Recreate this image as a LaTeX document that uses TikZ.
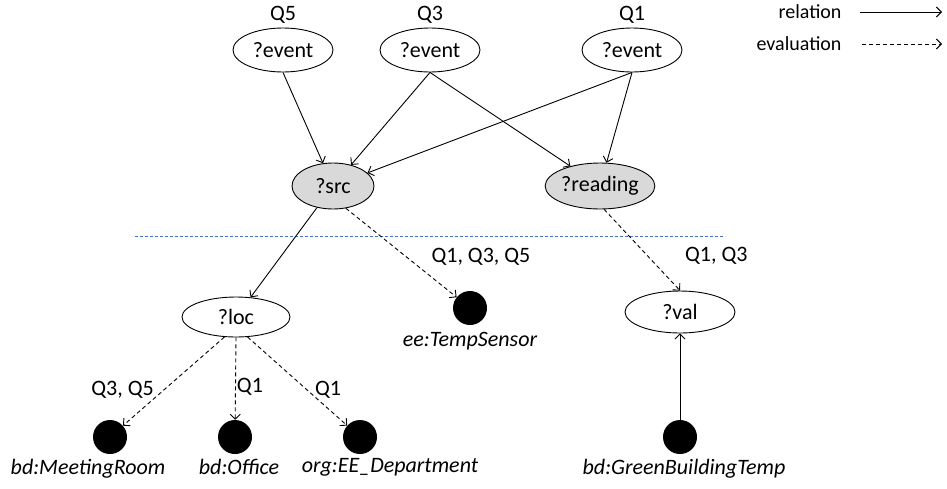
\documentclass[tikz,border=0pt]{standalone}
\usepackage{fontspec}
\setmainfont{Carlito}
\usetikzlibrary{shapes,arrows.meta}
\usetikzlibrary{shapes.geometric,positioning}
\definecolor{sepblue}{RGB}{68,114,196}

\begin{document}
\begin{tikzpicture}[x=1pt, y=-1pt, font=\fontsize{22}{26}\selectfont,
        var/.style={ellipse, draw=black, line width=0.9pt, fill=white, minimum width=100pt, minimum height=44pt, inner sep=0pt},
        bound/.style={var, fill=black!15},
        lit/.style={circle, fill=black, minimum size=34pt, inner sep=0pt},
        litlabel/.style={font=\fontsize{22}{26}\selectfont\itshape, yshift=-1pt},
        rel/.style={-{Straight Barb[length=5pt, width=10pt]}, line width=0.9pt},
        eval/.style={rel, dash pattern=on 4pt off 3pt}]
    \useasboundingbox (0,0) rectangle (947,488);
        \node (ev5) at (283,50) [var, label={[yshift=1pt]above:Q5}] {?event};
        \node (ev3) at (430,50) [var, label={[yshift=1pt]above:Q3}] {?event};
        \node (ev1) at (632,50) [var, label={[yshift=1pt]above:Q1}] {?event};
        \node (src) at (333,186) [bound, minimum width=82pt, minimum height=46pt] {?src};
        \node (reading) at (600,186) [bound, minimum width=108pt, minimum height=46pt] {?reading};
        \node (loc) at (236,317) [var, minimum width=108pt, minimum height=40pt] {?loc};
        \node (val) at (680,312) [var, minimum width=110pt, minimum height=42pt] {?val};
        \node (ee) at (470,308) [lit, label={[litlabel, yshift=-3pt]below:ee:TempSensor}] {};
        \node (mr) at (110,437) [lit, label={[litlabel, xshift=-22pt]below:bd:MeetingRoom}] {};
        \node (off) at (235,437) [lit, label={[litlabel, xshift=4pt]below:bd:Office}] {};
        \node (dep) at (360,437) [lit, label={[litlabel, xshift=30pt]below:org:EE\_Department}] {};
        \node (gb) at (680,437) [lit, label={[litlabel, xshift=4pt]below:bd:GreenBuildingTemp}] {};
        \draw[rel] (ev5.south) -- (src);
        \draw[rel] (ev3.south) -- (src);
        \draw[rel] (ev1.south) -- (src);
        \draw[rel] (ev3.south) -- (reading);
        \draw[rel] (ev1.south) -- (reading);
        \draw[sepblue, line width=0.8pt, dash pattern=on 3pt off 2pt] (135,236) -- (725,236);
        \draw[rel] (src) -- (loc);
        \draw[eval] (src.-60) -- node[pos=0.55, right, xshift=21pt] {Q1, Q3, Q5} (ee);
        \draw[eval] (reading.-80) -- node[pos=0.57, right, xshift=34pt] {Q1, Q3} (val.north);
        \draw[rel] (gb) -- (val);
        \draw[eval] (loc.-120) -- node[pos=0.6, left, xshift=-6pt] {Q3, Q5} (mr);
        \draw[eval] (loc.south) -- node[pos=0.6, right, inner xsep=1pt] {Q1} (off);
        \draw[eval] (loc.-60) -- node[pos=0.6, right, xshift=4pt] {Q1} (dep);
        \node (relation) at (845,12) [anchor=east, font=\fontsize{20}{24}\selectfont] {relation};
        \node (evaluation) at (845,44) [anchor=east, font=\fontsize{20}{24}\selectfont] {evaluation};
        \coordinate (rs) at (860,12);
        \coordinate (re) at (942,12);
        \coordinate (es) at (862,44);
        \coordinate (ee2) at (942,44);
        \draw[rel] (rs) -- (re);
        \draw[eval] (es) -- (ee2);
    \end{tikzpicture}
\end{document}
